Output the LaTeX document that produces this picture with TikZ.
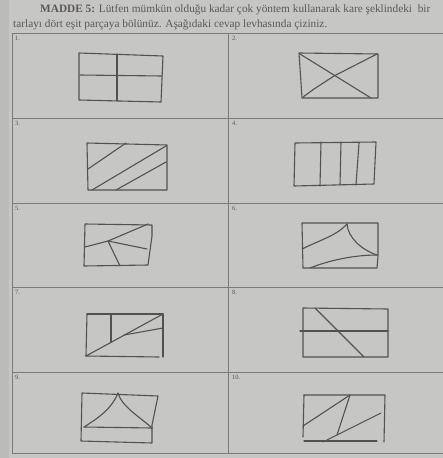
\documentclass[tikz,border=0pt]{standalone}
\usepackage{fontspec}
\setmainfont{Liberation Serif}
\usepackage{xcolor}
\definecolor{paper}{RGB}{198,198,196}
\definecolor{ink}{RGB}{82,82,84}
\definecolor{print}{RGB}{92,88,86}

\begin{document}
\begin{tikzpicture}[x=1pt, y=-1pt,
  grid/.style={draw=print!80, line width=0.8pt},
  pen/.style={draw=ink, line width=1.1pt, line join=round, line cap=round},
  num/.style={font=\fontsize{6.5}{7}\selectfont, text=print, anchor=north west, inner sep=0pt},
  head/.style={font=\fontsize{11.3}{12}\selectfont, text=print, anchor=west, inner sep=0pt},
]
\fill[paper] (0,0) rectangle (443,458);
\useasboundingbox (0,0) rectangle (443,458);
\fill[black!30, opacity=0.5] (0,0) rectangle (9,458);

% heading
\node[head] (line1) at (40,10) {\textbf{MADDE 5:} Lütfen mümkün olduğu kadar çok yöntem kullanarak kare şeklindeki\ \ bir};
\node[head] (line2) at (13,25) {tarlayı dört eşit parçaya bölünüz. Aşağıdaki cevap levhasında çiziniz.};

% answer table
\draw[grid] (12,33) -- (12,453);
\draw[grid] (228,33) -- (228,453);
\foreach \y in {33,118,203,287,372,453}
  \draw[grid] (12,\y) -- (443,\y);
\foreach \n/\x/\y in {1/15/36,2/232/36,3/15/121,4/232/121,5/15/206,6/232/206,7/15/290,8/232/290,9/15/375,10/232/375}
  \node[num] (n\n) at (\x,\y) {\n.};

% 1
\draw[pen] (79,53) -- (163,56) -- (161,102) -- (79,100) -- cycle;
\draw[pen] (117,54) -- (117,101);
\draw[pen] (80,75) -- (162,76);
% 2
\draw[pen] (299,53) -- (378,54) -- (378,98) -- (302,98) -- cycle;
\draw[pen] (300,54) -- (371,98);
\draw[pen] (377,54) -- (334,76) -- (314,89) -- (303,97);
% 3
\draw[pen] (87,143) -- (167,145) -- (167,190) -- (88,190) -- cycle;
\draw[pen] (88,169) -- (126,143);
\draw[pen] (92,190) -- (166,146);
\draw[pen] (116,190) -- (166,162);
% 4
\draw[pen] (295,143) -- (376,142) -- (374,184) -- (294,186) -- cycle;
\draw[pen] (321,142) -- (320,186);
\draw[pen] (341,142) -- (340,185);
\draw[pen] (359,143) -- (356,185);
% 5
\draw[pen] (85,224) -- (152,225) -- (152,236) -- (148,265) -- (84,266) -- cycle;
\draw[pen] (85,247) -- (108,241) -- (148,224);
\draw[pen] (108,241) -- (120,266);
\draw[pen] (108,241) -- (147,249);
% 6
\draw[pen] (302,223) -- (378,223) -- (378,256) -- (377,268) -- (303,268) -- cycle;
\draw[pen] (302,249) .. controls (320,240) and (336,236) .. (347,224);
\draw[pen] (347,224) .. controls (348,238) and (362,250) .. (377,255);
\draw[pen] (310,268) .. controls (330,260) and (355,255) .. (377,255);
% 7
\draw[pen] (87,314) -- (163,314) -- (163,357);
\draw[pen] (87,314) -- (86,356);
\draw[pen] (86,356) -- (159,357);
\draw[pen] (111,314) -- (111,342);
\draw[pen] (86,356) -- (163,314);
\draw[pen] (124,335) -- (163,328);
% 8
\draw[pen] (303,308) -- (388,309) -- (388,357) -- (303,357) -- cycle;
\draw[pen] (300,331) -- (388,331);
\draw[pen] (315,308) -- (364,357);
% 9
\draw[pen] (82,393) -- (158,396) -- (152,425) -- (152,443) -- (81,441) -- cycle;
\draw[pen] (84,427) -- (152,428);
\draw[pen] (84,427) .. controls (100,417) and (112,408) .. (118,393);
\draw[pen] (118,393) .. controls (122,407) and (140,417) .. (152,428);
% 10
\draw[pen] (304,395) -- (385,395) -- (384,442);
\draw[pen] (304,395) -- (303,437);
\draw[pen] (304,441) -- (377,441);
\draw[pen] (303,426) -- (350,395);
\draw[pen] (350,395) -- (337,435);
\draw[pen] (323,442) -- (337,435) -- (381,413);
\end{tikzpicture}
\end{document}
